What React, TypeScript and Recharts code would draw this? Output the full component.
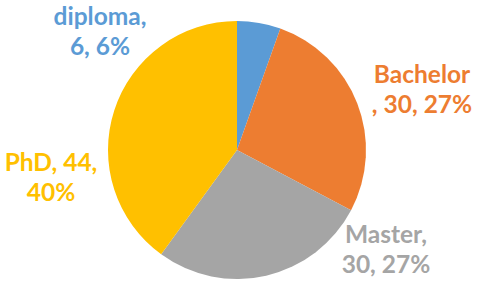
import { PieChart, Pie, Cell } from 'recharts';

const categories = ['diploma', 'Bachelor', 'Master', 'PhD'];
const counts = [6, 30, 30, 44];
const percents = ['6%', '27%', '27%', '40%'];
const colors = ['#5B9BD5', '#ED7D31', '#A5A5A5', '#FFC000'];

// how each label is split over two lines, as Excel wrapped them
const labelLines = [
  ['diploma,', '6, 6%'],
  ['Bachelor', ', 30, 27%'],
  ['Master,', '30, 27%'],
  ['PhD, 44,', '40%'],
];
// label centre offset from the pie centre
const labelPos = [
  [-137, -120],
  [185, -62],
  [149, 98],
  [-186, 26],
];

const data = categories.map((name, i) => ({ name, value: counts[i], pct: percents[i] }));

function renderLabel(props: any) {
  const { cx, cy, index } = props;
  const [dx, dy] = labelPos[index];
  const lines = labelLines[index];
  return (
    <text
      x={cx + dx}
      y={cy + dy}
      textAnchor="middle"
      fill={colors[index]}
      fontFamily="Lato, sans-serif"
      fontWeight="bold"
      fontSize={24.5}
    >
      <tspan x={cx + dx} dy={-5}>{lines[0]}</tspan>
      <tspan x={cx + dx} dy={30}>{lines[1]}</tspan>
    </text>
  );
}

export default function App() {
  return (
    <div style={{ position: 'absolute', left: 0, top: 0, width: 480, height: 287, background: '#fff' }}>
      <PieChart width={480} height={287} margin={{ top: 0, right: 0, bottom: 0, left: 0 }}>
        <Pie
          data={data}
          dataKey="value"
          cx={237}
          cy={150}
          outerRadius={129}
          startAngle={90}
          endAngle={-270}
          stroke="none"
          label={renderLabel}
          labelLine={false}
          isAnimationActive={false}
        >
          {data.map((d, i) => (
            <Cell key={d.name} fill={colors[i]} />
          ))}
        </Pie>
      </PieChart>
    </div>
  );
}
